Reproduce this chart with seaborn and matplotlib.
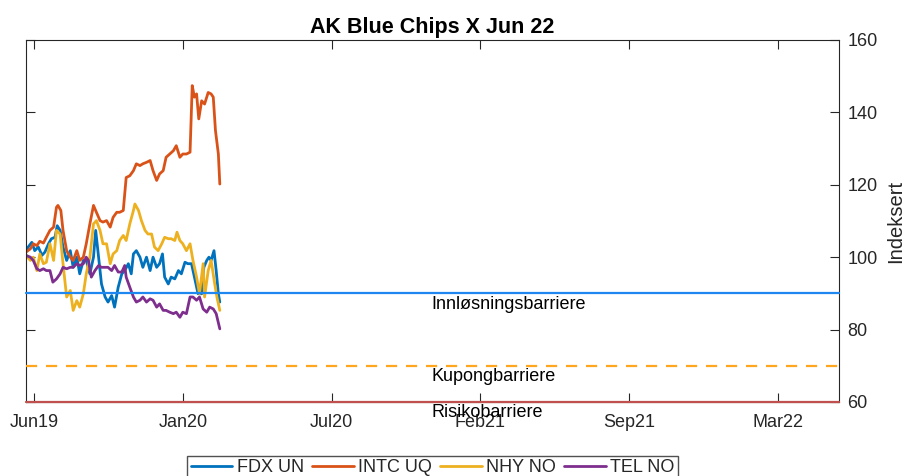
import pandas as pd
import numpy as np
import matplotlib
matplotlib.use("Agg")
import matplotlib.pyplot as plt
import matplotlib.dates as mdates
import seaborn as sns

# Data (day offsets from start date, indexed values)
start_date = pd.Timestamp("2019-05-30")

fdx_days = [0, 3, 8, 12, 17, 22, 26, 31, 35, 40, 43, 47, 51, 56, 61, 65, 70, 74, 79, 83,
            88, 93, 96, 100, 104, 109, 113, 118, 122, 127, 132, 136, 141, 145, 148, 152, 157, 161, 166, 171,
            175, 180, 184, 188, 191, 196, 200, 205, 210, 214, 219, 223, 228, 233, 237, 242, 245, 249, 252, 255,
            259, 262, 265, 267]
fdx_vals = [101.8, 102.8, 104.1, 101.8, 102.8, 100.5, 101.4, 103.7, 105.1, 105.5,
            108.7, 107.4, 102.8, 99.1, 101.8, 97.2, 100, 95.4, 99.1, 99.1,
            95.4, 100, 107.4, 100, 92.6, 89, 87.6, 89.4, 86.2, 91.7,
            95.4, 96.3, 98.2, 95.4, 100.9, 101.8, 100, 97.2, 100, 96.3,
            100, 97.2, 98.2, 100.9, 94.5, 92.6, 94.5, 94, 96.3, 95.4,
            98.6, 98.2, 98.2, 93.6, 89.9, 89.9, 97.2, 99.1, 100, 99.1,
            101.8, 96.3, 89.9, 87.6]

intc_days = [0, 6, 10, 15, 19, 24, 28, 33, 38, 42, 44, 48, 51, 56, 61, 65, 70, 74, 79, 83,
             88, 93, 97, 102, 106, 111, 116, 120, 125, 129, 134, 138, 143, 148, 152, 157, 161, 166, 171, 175,
             180, 184, 189, 193, 198, 203, 207, 212, 216, 221, 226, 229, 232, 235, 238, 242, 246, 251, 255, 258,
             261, 265, 267]
intc_vals = [101.4, 102.3, 103.7, 103.2, 104.4, 103.9, 105.5, 107.4, 108.3, 113.8,
             114.3, 112.9, 107.4, 101.8, 100, 99.1, 101.8, 99.1, 100, 103.7,
             109.2, 114.3, 112.4, 110.1, 109.7, 110.1, 108.3, 111, 112.4, 112.4,
             112.9, 122, 122.5, 123.9, 125.8, 125.3, 125.8, 126.2, 126.7, 123.9,
             121.2, 123, 123.9, 127.6, 128.5, 129.4, 130.8, 127.6, 128.5, 128.5,
             129, 147.4, 144.2, 145.1, 138.2, 143.2, 142.3, 145.5, 145.1, 144.2,
             135, 128.5, 120.2]

nhy_days = [0, 6, 10, 15, 19, 24, 28, 33, 38, 42, 47, 51, 56, 61, 65, 70, 74, 79, 83, 88,
            93, 97, 102, 106, 111, 116, 120, 125, 129, 134, 138, 143, 148, 150, 155, 159, 164, 168, 173, 177,
            182, 187, 191, 196, 200, 205, 208, 212, 216, 221, 226, 230, 235, 239, 244, 246, 251, 255, 260, 263,
            267]
nhy_vals = [100.5, 99.1, 100, 96.3, 100.9, 98.2, 98.6, 103.7, 99.1, 107.4,
            106.4, 98.2, 89, 90.8, 85.3, 88, 86.2, 89.9, 95.4, 100,
            109.2, 110.1, 107.4, 103.7, 103.7, 98.2, 100.9, 101.8, 104.6, 106,
            104.6, 109.2, 112.9, 114.7, 112.9, 110.1, 107.4, 106.4, 106.4, 102.8,
            101.8, 103.7, 105.5, 105.1, 105.1, 104.6, 106.9, 104.6, 103.7, 101.8,
            103.7, 99.1, 94.5, 89.9, 98.2, 89, 96.3, 99.1, 92.6, 89,
            85.3]

tel_days = [0, 6, 10, 15, 19, 24, 28, 33, 37, 42, 47, 51, 56, 61, 65, 70, 74, 79, 83, 86,
            90, 95, 100, 104, 109, 113, 118, 122, 127, 132, 136, 138, 143, 148, 152, 157, 161, 166, 171, 175,
            180, 184, 189, 193, 198, 203, 207, 212, 216, 221, 226, 230, 235, 239, 244, 249, 253, 258, 262, 267]
tel_vals = [100.5, 100, 99.1, 96.8, 96.3, 96.8, 96.3, 96.3, 93.1, 94,
            95.4, 97.2, 96.8, 97.2, 97.2, 98.2, 97.7, 98.2, 100, 99.1,
            94.5, 96.3, 97.7, 97.2, 97.2, 97.2, 96.3, 97.7, 95.9, 95.9,
            97.7, 94.5, 91.7, 89, 87.6, 88.1, 89, 87.6, 88.5, 88.1,
            86.2, 87.1, 85.3, 85.3, 84.8, 84.4, 84.8, 83.4, 84.8, 84.4,
            89, 89, 88.1, 89, 85.7, 84.8, 86.2, 85.7, 84.4, 80.2]

series_names = ["FDX UN", "INTC UQ", "NHY NO", "TEL NO"]
series_colors = ["#0072BD", "#D95319", "#EDB120", "#7E2F8E"]

barrier_names = ["Innløsningsbarriere", "Kupongbarriere", "Risikobarriere"]
barrier_levels = [90, 70, 60]
barrier_colors = ["#1E88F0", "#FFA51E", "#C0504D"]
barrier_styles = ["-", (0, (5, 4)), "-"]

tick_dates = pd.date_range("2019-06-10", periods=6, freq="205D")
x_limits = [pd.Timestamp("2019-05-30"), pd.Timestamp("2022-06-23")]
y_ticks = [60, 80, 100, 120, 140, 160]

# Long-form table for seaborn
frames = []
for name, days, vals in zip(series_names,
                            [fdx_days, intc_days, nhy_days, tel_days],
                            [fdx_vals, intc_vals, nhy_vals, tel_vals]):
    frames.append(pd.DataFrame({
        "Dato": start_date + pd.to_timedelta(days, unit="D"),
        "Indeksert": vals,
        "Serie": name,
    }))
df = pd.concat(frames, ignore_index=True)

sns.set_style("white")
plt.rcParams["font.family"] = ["Liberation Sans", "DejaVu Sans"]

fig = plt.figure(figsize=(9.09, 4.76), dpi=100)
ax = fig.add_axes([0.0286, 0.1555, 0.8944, 0.7605])

sns.lineplot(data=df, x="Dato", y="Indeksert", hue="Serie", hue_order=series_names,
             palette=series_colors, linewidth=2.0, ax=ax, legend=False)

# Barrier lines and labels
label_date = pd.Timestamp("2020-12-09")
for name, lvl, col, ls in zip(barrier_names, barrier_levels, barrier_colors, barrier_styles):
    ax.axhline(lvl, color=col, linestyle=ls, linewidth=1.6, zorder=5, clip_on=False)
    ax.text(label_date, lvl - 0.6, name, ha="left", va="top", fontsize=13,
            color="black", clip_on=False)

ax.set_xlim(x_limits)
ax.set_ylim(60, 160)
ax.set_xticks(tick_dates)
ax.xaxis.set_major_formatter(mdates.DateFormatter("%b%y"))
ax.set_yticks(y_ticks)

ax.yaxis.set_label_position("right")
ax.set_ylabel("Indeksert", fontsize=14.5, color="#262626", labelpad=6)
ax.set_xlabel("")
ax.tick_params(axis="both", direction="in", length=6.5, width=0.8, color="#262626",
               labelsize=13, labelcolor="#262626",
               top=True, bottom=True, left=True, right=True,
               labelleft=False, labelright=True)
ax.tick_params(axis="x", pad=9)
ax.tick_params(axis="y", pad=6)
for sp in ax.spines.values():
    sp.set_visible(True)
    sp.set_color("#262626")
    sp.set_linewidth(0.8)

ax.set_title("AK Blue Chips X Jun 22", fontsize=15.5, fontweight="bold", color="black", pad=5)

handles = [plt.Line2D([0], [0], color=c, linewidth=2.0) for c in series_colors]
fig.legend(handles, series_names, loc="upper center", bbox_to_anchor=(0.476, 0.043),
           ncol=4, fontsize=13, frameon=True, fancybox=False, edgecolor="#262626",
           handlelength=2.3, columnspacing=0.45, handletextpad=0.25, borderpad=0.2,
           borderaxespad=0.0)

fig.savefig("out.png", dpi=100)
